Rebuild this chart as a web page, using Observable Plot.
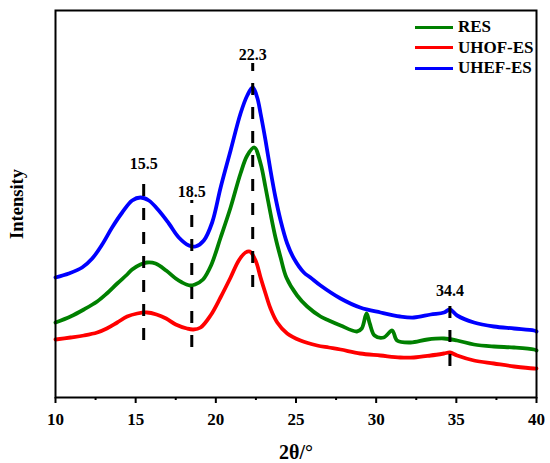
<!DOCTYPE html>
<html><head><meta charset="utf-8">
<script src="https://cdn.jsdelivr.net/npm/d3@7"></script>
<script src="https://cdn.jsdelivr.net/npm/@observablehq/plot@0.6"></script>
<style>
body{margin:0;background:#fff;}
#wrap{position:relative;width:550px;height:463px;font-family:"Liberation Serif","Times New Roman",serif;}
.legend{position:absolute;left:415px;top:17px;font-weight:bold;font-size:17px;color:#000;}
.row{display:flex;align-items:center;height:20.5px;}
.sw{width:38px;height:3px;margin-right:5px;}
</style></head><body><div id="wrap"></div>
<script>
// 2θ (degrees) and intensity (a.u.)
const resTheta = [10.0,10.94,11.77,12.6,13.2,13.85,14.47,14.78,15.3,15.7,16.24,16.9,17.5,17.9,18.4,18.7,19.2,19.7,20.3,20.92,21.54,21.96,22.4,22.79,23.1,23.41,23.72,24.04,24.4,25.07,25.7,26.53,27.05,27.78,28.8,29.1,29.4,29.6,29.9,30.47,31.0,31.3,32.15,33.2,34.23,35.05,36.1,37.34,38.6,39.84,40];
const resInt   = [75,81,88,96,104,114,123,128,133,135,134,127,119,115,112,113,118,132,160,190,224,242,250,234,210,184,160,140,120,102,91,81,77,72,66,69,84,74,62,60,67,57,55,58,59,57,53,51,50,48,47];

const uhofTheta = [10.0,10.94,11.77,12.6,13.2,13.85,14.47,15.1,15.7,16.3,16.9,17.5,18.2,18.6,19.05,19.67,20.29,20.92,21.43,21.85,22.12,22.48,22.79,23.1,23.41,23.83,24.45,25.28,26.32,27.05,27.78,29.0,30.27,31.5,32.35,33.4,34.23,34.6,35.05,36.1,37.34,38.6,39.84,40];
const uhofInt   = [58,60,62,65,69,75,81,84,85,83,79,73,69,68,70,82,100,120,137,145,146,137,120,104,89,75,64,57,52,50,48,44,42,40,40,42,44,45,42,37,34,31,29,29];

const uhefTheta = [10.0,10.83,11.66,12.29,12.91,13.53,14.16,14.78,15.3,15.82,16.44,17.07,17.69,18.32,18.73,19.25,19.77,20.3,20.92,21.54,21.96,22.3,22.58,22.79,23.1,23.41,23.72,24.04,24.45,24.87,25.49,25.9,26.53,27.78,29.0,30.27,31.5,32.35,33.4,34.23,34.6,35.05,36.1,37.34,38.6,39.84,40];
const uhefInt   = [120,124,130,139,153,170,185,197,200,197,187,174,160,152,151,157,175,210,247,284,302,310,300,284,257,227,200,177,154,139,125,120,112,99,90,85,81,80,83,85,88,82,75,71,69,67,66];

// marked peaks
const peakPos    = [15.5, 18.5, 22.3, 34.6];
const peakLabels = ["15.5", "18.5", "22.3", "34.4"];
const peakTop    = [225, 197, 334, 98];
const peakBottom = [57, 50, 110, 31];

const seriesNames  = ["RES", "UHOF-ES", "UHEF-ES"];
const seriesColors = ["#008000", "#ff0000", "#0000ff"];

const majorTicks = [10, 15, 20, 25, 30, 35, 40];
const minorTicks = [12.5, 17.5, 22.5, 27.5, 32.5, 37.5];

const toRows = (t, v) => t.map((x, k) => ({t: x, i: v[k]}));
const res = toRows(resTheta, resInt);
const uhof = toRows(uhofTheta, uhofInt);
const uhef = toRows(uhefTheta, uhefInt);
const peaks = peakPos.map((p, k) => ({t: p, label: peakLabels[k], hi: peakTop[k], lo: peakBottom[k]}));

const chart = Plot.plot({
  width: 550, height: 463,
  marginLeft: 55, marginRight: 14, marginTop: 10, marginBottom: 66,
  x: {domain: [10, 40], label: null, axis: null},
  y: {domain: [0, 387], axis: null, label: null},
  style: {fontFamily: "'Liberation Serif','Times New Roman',serif", fontWeight: "bold", fontSize: "16px", color: "black", background: "white"},
  marks: [
    Plot.line(res,  {x: "t", y: "i", stroke: seriesColors[0], strokeWidth: 3.8, curve: "catmull-rom"}),
    Plot.line(uhof, {x: "t", y: "i", stroke: seriesColors[1], strokeWidth: 3.8, curve: "catmull-rom"}),
    Plot.line(uhef, {x: "t", y: "i", stroke: seriesColors[2], strokeWidth: 3.8, curve: "catmull-rom"}),
    Plot.ruleX(peaks, {x: "t", y1: "lo", y2: "hi", stroke: "black", strokeWidth: 3, strokeDasharray: "12,12"}),
    Plot.text(peaks, {x: "t", y: "hi", text: "label", lineAnchor: "bottom", dy: -4, fontSize: 16, fontWeight: "bold"}),
    Plot.frame({stroke: "black", strokeWidth: 2}),
    Plot.axisX({ticks: majorTicks, tickSize: 6, strokeWidth: 2, label: null, tickFormat: () => ""}),
    Plot.axisX({ticks: minorTicks, tickSize: 3, strokeWidth: 2, label: null, tickFormat: () => ""}),
    Plot.text(majorTicks, {x: d => d, frameAnchor: "bottom", lineAnchor: "middle", dy: 22, text: d => String(d), fontSize: 17, fontWeight: "bold"}),
    Plot.text(["Intensity"], {frameAnchor: "left", textAnchor: "middle", lineAnchor: "middle", rotate: -90, dx: -38, fontSize: 18.5, fontWeight: "bold"}),
    Plot.text(["2θ/°"], {frameAnchor: "bottom", textAnchor: "middle", lineAnchor: "middle", dy: 55, fontSize: 20, fontWeight: "bold"})
  ]
});

const wrap = document.getElementById("wrap");
wrap.appendChild(chart);
const legend = document.createElement("div");
legend.className = "legend";
seriesNames.forEach((n, k) => {
  const row = document.createElement("div");
  row.className = "row";
  const sw = document.createElement("span");
  sw.className = "sw";
  sw.style.background = seriesColors[k];
  const tx = document.createElement("span");
  tx.textContent = n;
  row.appendChild(sw); row.appendChild(tx);
  legend.appendChild(row);
});
wrap.appendChild(legend);
</script></body></html>
